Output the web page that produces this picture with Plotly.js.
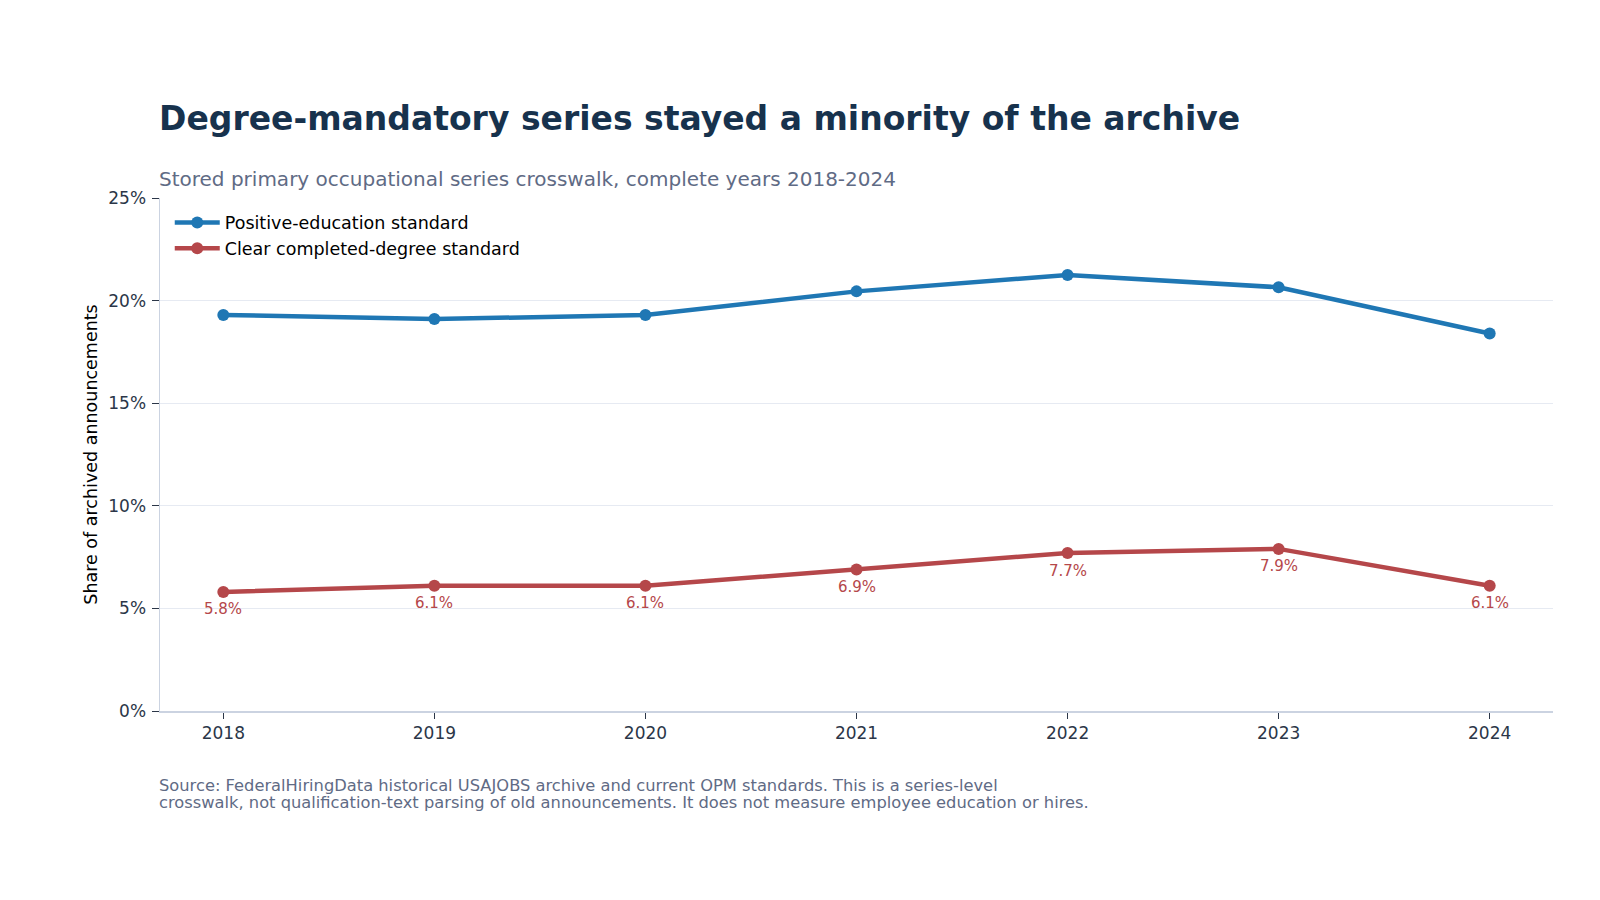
<!DOCTYPE html>
<html>
<head>
<meta charset="utf-8">
<script src="https://cdn.plot.ly/plotly-3.0.1.min.js"></script>
<style>
  html, body { margin: 0; padding: 0; background: #fff; }
  #graph { width: 1600px; height: 900px; }
</style>
</head>
<body>
<div id="graph"></div>
<script>
'use strict';

var years = [2018, 2019, 2020, 2021, 2022, 2023, 2024];
var positiveEducation = [19.3, 19.1, 19.3, 20.45, 21.25, 20.65, 18.4];
var completedDegree = [5.8, 6.1, 6.1, 6.9, 7.7, 7.9, 6.1];
var yTickVals = [0, 5, 10, 15, 20, 25];
var yTickText = ['0%', '5%', '10%', '15%', '20%', '25%'];

var FONT = 'DejaVu Sans, sans-serif';
var BLUE = '#1f77b4';
var RED = '#b5474a';
var INK = '#2b3648';
var MUTED = '#5f6b85';

var graph = document.getElementById('graph');

var data = [
  {
    type: 'scatter',
    mode: 'lines+markers',
    name: 'Positive-education standard',
    x: years,
    y: positiveEducation,
    line: { color: BLUE, width: 4.5 },
    marker: { color: BLUE, size: 12 },
    hoverinfo: 'skip'
  },
  {
    type: 'scatter',
    mode: 'lines+markers',
    name: 'Clear completed-degree standard',
    x: years,
    y: completedDegree,
    line: { color: RED, width: 4.5 },
    marker: { color: RED, size: 12 },
    hoverinfo: 'skip'
  }
];

// value labels under the red points
var pointLabels = years.map(function (yr, i) {
  return {
    xref: 'x', yref: 'y', x: yr, y: completedDegree[i],
    xanchor: 'center', yanchor: 'middle',
    yshift: -17.5,
    text: completedDegree[i].toFixed(1) + '%',
    showarrow: false,
    font: { family: FONT, size: 15, color: RED }
  };
});

var textNotes = [
  {
    xref: 'paper', yref: 'paper', x: 0, y: 1,
    xanchor: 'left', yanchor: 'middle',
    xshift: -3, yshift: 80,
    text: '<b>Degree-mandatory series stayed a minority of the archive</b>',
    showarrow: false,
    font: { family: FONT, size: 33, color: '#17324d' }
  },
  {
    xref: 'paper', yref: 'paper', x: 0, y: 1,
    xanchor: 'left', yanchor: 'middle',
    xshift: -3, yshift: 19,
    text: 'Stored primary occupational series crosswalk, complete years 2018-2024',
    showarrow: false,
    font: { family: FONT, size: 20, color: MUTED }
  },
  {
    xref: 'paper', yref: 'paper', x: 0, y: 0,
    xanchor: 'left', yanchor: 'middle',
    xshift: -3, yshift: -74.5,
    text: 'Source: FederalHiringData historical USAJOBS archive and current OPM standards. This is a series-level',
    showarrow: false,
    font: { family: FONT, size: 16.3, color: MUTED }
  },
  {
    xref: 'paper', yref: 'paper', x: 0, y: 0,
    xanchor: 'left', yanchor: 'middle',
    xshift: -3, yshift: -91,
    text: 'crosswalk, not qualification-text parsing of old announcements. It does not measure employee education or hires.',
    showarrow: false,
    font: { family: FONT, size: 16.3, color: MUTED }
  }
];

var layout = {
  width: 1600,
  height: 900,
  paper_bgcolor: '#ffffff',
  plot_bgcolor: '#ffffff',
  margin: { l: 160, r: 47, t: 198, b: 189 },
  font: { family: FONT, size: 17, color: INK },
  showlegend: true,
  legend: {
    x: 0.007, y: 0.987, xanchor: 'left', yanchor: 'top',
    bgcolor: 'rgba(255,255,255,0)',
    itemwidth: 45,
    font: { family: FONT, size: 17.5, color: '#000000' }
  },
  xaxis: {
    range: [2017.7, 2024.3],
    tickvals: years,
    ticktext: years.map(String),
    ticks: 'outside',
    ticklen: 6,
    tickcolor: INK,
    tickfont: { family: FONT, size: 17, color: INK },
    showgrid: false,
    zeroline: false,
    showline: true,
    linecolor: '#cbd3e1',
    linewidth: 1.5
  },
  yaxis: {
    range: [0, 25],
    tickvals: yTickVals,
    ticktext: yTickText,
    ticks: 'outside',
    ticklen: 7,
    tickcolor: INK,
    ticklabelstandoff: 2,
    tickfont: { family: FONT, size: 17, color: INK },
    showgrid: true,
    gridcolor: '#e6eaf2',
    gridwidth: 1,
    zeroline: false,
    showline: true,
    linecolor: '#cbd3e1',
    linewidth: 1.5,
    title: {
      text: 'Share of archived announcements',
      font: { family: FONT, size: 17.5, color: '#000000' },
      standoff: 6
    }
  },
  annotations: textNotes.concat(pointLabels)
};

Plotly.newPlot(graph, data, layout, { displayModeBar: false, staticPlot: true });
</script>
</body>
</html>
